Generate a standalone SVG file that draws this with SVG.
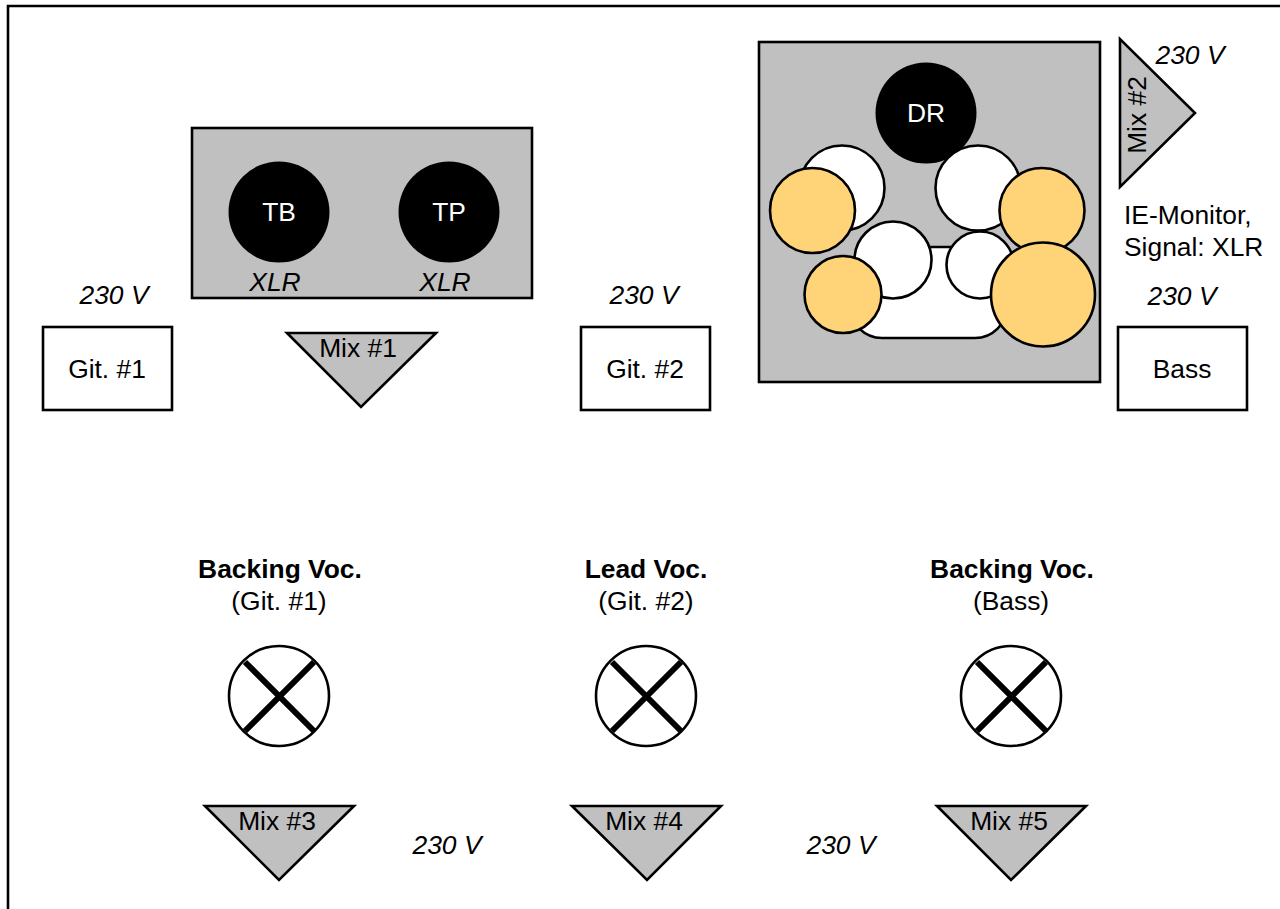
<svg xmlns="http://www.w3.org/2000/svg" width="1280" height="909" viewBox="0 0 1280 909">
<style>
text{font-family:"Liberation Sans",Arial,sans-serif;font-size:26.4px;fill:#000;text-anchor:middle}
.i{font-style:italic}
.b{font-weight:bold}
.w{fill:#fff}
.g{fill:#c0c0c0;stroke:#000;stroke-width:2.6}
.k{fill:#fff;stroke:#000;stroke-width:2.6}
.o{fill:#ffd479;stroke:#000;stroke-width:2.6}
.d{fill:#000}
.x{stroke:#000;stroke-width:6;fill:none}
</style>
<rect width="1280" height="909" fill="#fff"/>
<path id="frame" d="M8 909V6H1282" fill="none" stroke="#000" stroke-width="2.6"/>
<g id="connectors"></g>
<g id="git1"><rect class="k" x="43" y="327" width="129" height="83"/><text x="107" y="378">Git. #1</text><text class="i" x="114" y="304">230 V</text></g>
<g id="horns"><rect class="g" x="192" y="128" width="340" height="170"/>
<circle class="d" cx="279" cy="212" r="50.5"/><text class="w" x="279" y="221">TB</text>
<circle class="d" cx="449" cy="212" r="50.5"/><text class="w" x="449" y="221">TP</text>
<text class="i" x="275" y="291">XLR</text><text class="i" x="445" y="291">XLR</text></g>
<g id="mix1"><polygon class="g" points="287,333 436,333 361,407"/><text x="358" y="357">Mix #1</text></g>
<g id="git2"><rect class="k" x="581" y="327" width="129" height="83"/><text x="645" y="378">Git. #2</text><text class="i" x="644" y="304">230 V</text></g>
<g id="drums"><rect class="g" x="759" y="42" width="341" height="340"/>
<circle class="d" cx="926" cy="113" r="50.5"/><text class="w" x="926" y="122">DR</text>
<rect class="k" x="850" y="247" width="157" height="91" rx="32"/>
<circle class="k" cx="842" cy="188" r="42.5"/>
<circle class="k" cx="978" cy="188" r="42.5"/>
<circle class="o" cx="812.5" cy="210.5" r="42.5"/>
<circle class="o" cx="1042" cy="210.5" r="42.5"/>
<circle class="k" cx="893" cy="260" r="38.5"/>
<circle class="k" cx="980" cy="265" r="33.5"/>
<circle class="o" cx="843" cy="294.5" r="38.5"/>
<circle class="o" cx="1043" cy="294.5" r="52"/></g>
<g id="mix2"><polygon class="g" points="1120,39 1120,187 1195,113"/><text transform="translate(1146 115) rotate(-90)">Mix #2</text><text class="i" x="1190" y="64">230 V</text></g>
<g id="iem"><text x="1124" y="224" style="text-anchor:start">IE-Monitor,</text><text x="1124" y="256" style="text-anchor:start">Signal: XLR</text></g>
<g id="bass"><rect class="k" x="1118" y="327" width="129" height="83"/><text x="1182" y="378">Bass</text><text class="i" x="1182" y="305">230 V</text></g>
<g id="voc1"><text class="b" x="280" y="578">Backing Voc.</text><text x="279" y="610">(Git. #1)</text>
<circle class="k" cx="279" cy="696" r="50"/><path class="x" d="M245 662L314 731M314 662L245 731"/></g>
<g id="voc2"><text class="b" x="646" y="578">Lead Voc.</text><text x="646" y="610">(Git. #2)</text>
<circle class="k" cx="646" cy="696" r="50"/><path class="x" d="M612 662L681 731M681 662L612 731"/></g>
<g id="voc3"><text class="b" x="1012" y="578">Backing Voc.</text><text x="1011" y="610">(Bass)</text>
<circle class="k" cx="1011" cy="696" r="50"/><path class="x" d="M977 662L1046 731M1046 662L977 731"/></g>
<g id="mix3"><polygon class="g" points="205,806 354,806 279,880"/><text x="277" y="830">Mix #3</text></g>
<g id="mix4"><polygon class="g" points="572,806 721,806 647,880"/><text x="644" y="830">Mix #4</text></g>
<g id="mix5"><polygon class="g" points="937,806 1086,806 1011,880"/><text x="1009" y="830">Mix #5</text></g>
<text class="i" x="447" y="854">230 V</text>
<text class="i" x="841" y="854">230 V</text>
</svg>
